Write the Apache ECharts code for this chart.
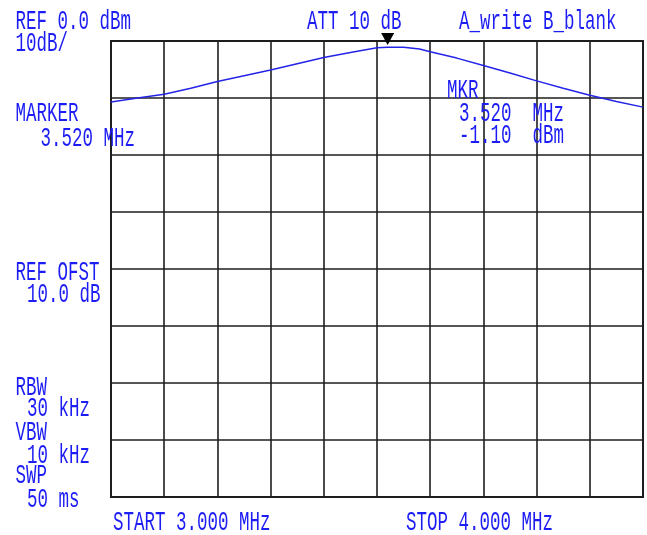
<!DOCTYPE html>
<html>
<head>
<meta charset="utf-8">
<script src="https://cdn.jsdelivr.net/npm/echarts@6/dist/echarts.min.js"></script>
<style>html,body{margin:0;padding:0;background:#fff;}#c{width:647px;height:535px;}</style>
</head>
<body>
<div id="c"></div>
<script>
// Trace data (frequency in MHz, level in dBm)
var freqMHz = [3.00, 3.05, 3.10, 3.15, 3.20, 3.25, 3.30, 3.35, 3.40, 3.45, 3.50, 3.52, 3.55, 3.58, 3.60, 3.65, 3.70, 3.75, 3.80, 3.85, 3.90, 3.95, 4.00];
var levelDbm = [-10.7, -10.0, -9.35, -8.3, -7.1, -6.1, -5.1, -4.0, -2.9, -2.0, -1.2, -1.10, -1.1, -1.4, -1.9, -3.0, -4.3, -5.6, -7.0, -8.3, -9.5, -10.6, -11.6];
var markerFreq = [3.52];
var markerLevel = [-1.10];
var startFreq = 3.0, stopFreq = 4.0, refLevel = 0, dbPerDiv = 10, yDivs = 8;

var BLUE = '#1c1cf5';
var FONT = 'Liberation Mono';
var FS = 17.5;
var SY = 1.58;

// annotation texts: [text, x, yCenter]
var labels = [
  ['REF 0.0 dBm', 15.5, 22],
  ['10dB/', 15.5, 44],
  ['ATT 10 dB', 307, 22],
  ['A_write B_blank', 459, 22],
  ['MARKER', 15.5, 113.5],
  ['3.520 MHz', 40.5, 138.5],
  ['MKR', 447, 91],
  ['3.520  MHz', 459, 114],
  ['-1.10  dBm', 459, 136],
  ['REF OFST', 15.5, 273],
  ['10.0 dB', 27, 295],
  ['RBW', 15.5, 387.5],
  ['30 kHz', 27, 409],
  ['VBW', 15.5, 432.5],
  ['10 kHz', 27, 456],
  ['SWP', 15.5, 476],
  ['50 ms', 27, 500],
  ['START 3.000 MHz', 113, 522.5],
  ['STOP 4.000 MHz', 406, 522.5]
];

var lineData = freqMHz.map(function (f, i) { return [f, levelDbm[i]]; });

var graphics = labels.map(function (l) {
  return {
    type: 'text',
    x: l[1], y: l[2],
    scaleY: SY,
    z: 100,
    style: {
      text: l[0],
      fill: BLUE,
      font: FS + 'px "' + FONT + '"',
      textAlign: 'left',
      textVerticalAlign: 'middle'
    }
  };
});

var chart = echarts.init(document.getElementById('c'), null, {renderer: 'canvas'});
chart.setOption({
  backgroundColor: '#ffffff',
  animation: false,
  grid: {left: 111, top: 41, width: 532, height: 456, show: true, borderColor: '#1e1e1e', borderWidth: 2, backgroundColor: 'transparent'},
  xAxis: {
    type: 'value', min: startFreq, max: stopFreq, interval: (stopFreq - startFreq) / 10,
    axisLine: {show: false}, axisTick: {show: false}, axisLabel: {show: false},
    splitLine: {show: true, lineStyle: {color: '#1e1e1e', width: 1.6}}
  },
  yAxis: {
    type: 'value', min: refLevel - dbPerDiv * yDivs, max: refLevel, interval: dbPerDiv,
    axisLine: {show: false}, axisTick: {show: false}, axisLabel: {show: false},
    splitLine: {show: true, lineStyle: {color: '#1e1e1e', width: 1.6}}
  },
  series: [{
    type: 'line',
    data: lineData,
    showSymbol: false,
    smooth: false,
    lineStyle: {color: '#2424e8', width: 1.5},
    markPoint: {
      symbol: 'triangle',
      symbolSize: [13, 12],
      symbolRotate: 180,
      symbolOffset: [0, -2],
      itemStyle: {color: '#000'},
      label: {show: false},
      data: [{coord: [markerFreq[0], refLevel], value: markerLevel[0]}]
    }
  }],
  graphic: graphics
});
</script>
</body>
</html>
